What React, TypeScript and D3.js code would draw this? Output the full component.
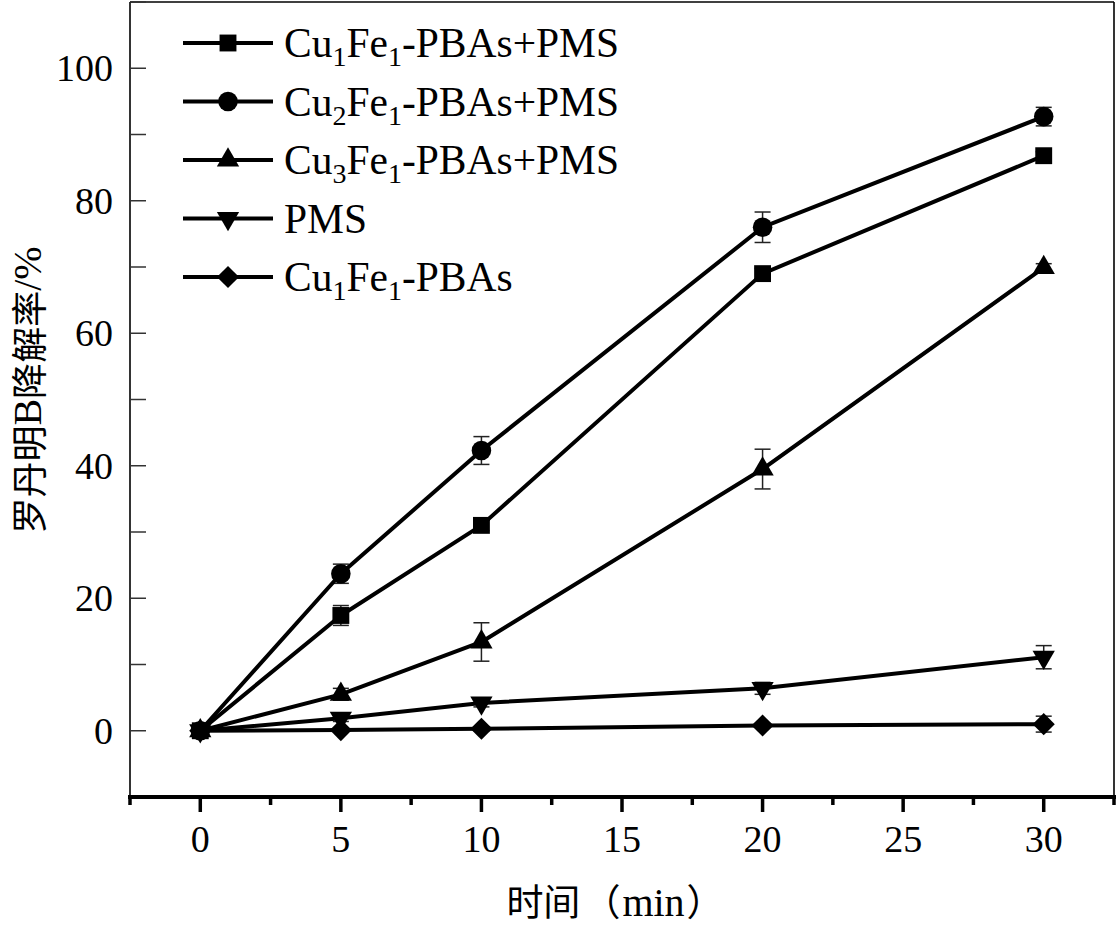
import React from "react"
import { scaleLinear, line, symbol, symbolSquare, symbolCircle, symbolTriangle, range } from "d3"

// time points (min)
const times = [0, 5, 10, 20, 30]

// series values (%) and error bars
const cu1Values = [0, 17.4, 31.0, 69.0, 86.8]
const cu1Errors = [0.3, 1.5, 0.8, 0.8, 0.6]
const cu2Values = [0, 23.7, 42.3, 76.0, 92.7]
const cu2Errors = [0.3, 1.45, 2.1, 2.3, 1.4]
const cu3Values = [0, 5.5, 13.4, 39.5, 69.9]
const cu3Errors = [0.3, 0.9, 2.9, 3.0, 0.6]
const pmsValues = [0, 1.9, 4.2, 6.4, 11.1]
const pmsErrors = [0.2, 0.5, 0.6, 0.9, 1.75]
const pbaValues = [0, 0.1, 0.3, 0.8, 1.0]
const pbaErrors = [0.2, 0.2, 0.3, 0.3, 1.2]

// legend names: [prefix, sub, mid, sub, suffix]
const legendNames = [
  ["Cu", "1", "Fe", "1", "-PBAs+PMS"],
  ["Cu", "2", "Fe", "1", "-PBAs+PMS"],
  ["Cu", "3", "Fe", "1", "-PBAs+PMS"],
  ["PMS", "", "", "", ""],
  ["Cu", "1", "Fe", "1", "-PBAs"],
]

const xMajorTicks = [0, 5, 10, 15, 20, 25, 30]
const yMajorTicks = [0, 20, 40, 60, 80, 100]

type Marker = "square" | "circle" | "up" | "down" | "diamond"

const series: { values: number[]; errors: number[]; marker: Marker }[] = [
  { values: cu1Values, errors: cu1Errors, marker: "square" },
  { values: cu2Values, errors: cu2Errors, marker: "circle" },
  { values: cu3Values, errors: cu3Errors, marker: "up" },
  { values: pmsValues, errors: pmsErrors, marker: "down" },
  { values: pbaValues, errors: pbaErrors, marker: "diamond" },
]

const serif = "'Liberation Serif', 'Times New Roman', serif"
const cjk = "'Noto Sans CJK SC', sans-serif"

const markerPath = (m: Marker) => {
  if (m === "square") return symbol(symbolSquare, 285)()
  if (m === "circle") return symbol(symbolCircle, 300)()
  if (m === "diamond") return symbol(symbolSquare, 245)()
  return symbol(symbolTriangle, 215)()
}
const markerRotate = (m: Marker) => (m === "down" ? 180 : m === "diamond" ? 45 : 0)

const MarkerShape = ({ m, x, y }: { m: Marker; x: number; y: number }) => (
  <path
    d={markerPath(m) ?? ""}
    transform={`translate(${x},${y}) rotate(${markerRotate(m)})`}
    fill="#000"
  />
)

const App = () => {
  // dimensions
  const width = 1120
  const height = 932
  const left = 130
  const right = 1114
  const top = 2
  const bottom = 797

  // scales
  const xScale = scaleLinear().domain([-2.5, 32.5]).range([left, right])
  const yScale = scaleLinear().domain([-10, 110]).range([bottom, top])

  const lineGen = line<number>()
    .x((_, i) => xScale(times[i]))
    .y((d) => yScale(d))

  const xMinorTicks = range(-2.5, 33, 5)
  const yMinorTicks = range(-10, 111, 10)

  const legendX0 = 183
  const legendX1 = 273
  const legendY0 = 43
  const legendStep = 58.5

  return (
    <div style={{ position: "absolute", left: 0, top: 0 }}>
      <svg width={width} height={height} style={{ display: "block", background: "#fff" }}>
        {/* frame */}
        <line x1={left} x2={left} y1={top} y2={bottom} stroke="#000" strokeWidth={1.6} />
        <line x1={left} x2={right} y1={top} y2={top} stroke="#000" strokeWidth={1.6} />
        <line x1={right} x2={right} y1={top} y2={bottom} stroke="#000" strokeWidth={1.6} />

        {/* y ticks (inward) */}
        {yMinorTicks.map((t) => (
          <line key={"yt" + t} x1={left} x2={left + 16} y1={yScale(t)} y2={yScale(t)} stroke="#333" strokeWidth={1.5} />
        ))}
        {yMajorTicks.map((t) => (
          <text
            key={"yl" + t}
            x={left - 17}
            y={yScale(t) + 13}
            textAnchor="end"
            fontFamily={serif}
            fontSize={38}
            fill="#000"
          >
            {t}
          </text>
        ))}

        {/* x axis (thick, outward ticks) */}
        <line x1={left - 2} x2={right + 2} y1={bottom} y2={bottom} stroke="#000" strokeWidth={4} />
        {xMinorTicks.map((t) => (
          <line key={"xm" + t} x1={xScale(t)} x2={xScale(t)} y1={bottom} y2={bottom + 8} stroke="#000" strokeWidth={3.5} />
        ))}
        {xMajorTicks.map((t) => (
          <g key={"xt" + t}>
            <line x1={xScale(t)} x2={xScale(t)} y1={bottom} y2={bottom + 15} stroke="#000" strokeWidth={3.5} />
            <text x={xScale(t)} y={852} textAnchor="middle" fontFamily={serif} fontSize={38} fill="#000">
              {t}
            </text>
          </g>
        ))}

        {/* axis titles */}
        <text x={615} y={916} textAnchor="middle" fontFamily={serif} fontSize={40} fill="#000">
          <tspan fontFamily={cjk} fontSize={37}>时间</tspan>
          <tspan fontFamily={cjk} fontSize={37} dx={3}>（</tspan>
          <tspan dx={2}>min</tspan>
          <tspan fontFamily={cjk} fontSize={37} dx={2}>）</tspan>
        </text>
        <text
          transform={`translate(27, 390) rotate(-90)`}
          textAnchor="middle"
          dominantBaseline="central"
          fontFamily={serif}
          fontSize={40}
          fill="#000"
        >
          <tspan fontFamily={cjk} fontSize={36}>罗丹明</tspan>
          <tspan>B</tspan>
          <tspan fontFamily={cjk} fontSize={36}>降解率</tspan>
          <tspan>/%</tspan>
        </text>

        {/* series */}
        {series.map((s, si) => (
          <g key={"s" + si}>
            {s.values.map((v, i) => {
              const x = xScale(times[i])
              const y1 = yScale(v + s.errors[i])
              const y2 = yScale(v - s.errors[i])
              return (
                <g key={"e" + i} stroke="#222" strokeWidth={1.5}>
                  <line x1={x} x2={x} y1={y1} y2={y2} />
                  <line x1={x - 8} x2={x + 8} y1={y1} y2={y1} />
                  <line x1={x - 8} x2={x + 8} y1={y2} y2={y2} />
                </g>
              )
            })}
            <path d={lineGen(s.values) ?? ""} fill="none" stroke="#000" strokeWidth={4} strokeLinejoin="round" />
            {s.values.map((v, i) => (
              <MarkerShape key={"m" + i} m={s.marker} x={xScale(times[i])} y={yScale(v)} />
            ))}
          </g>
        ))}

        {/* legend */}
        {series.map((s, i) => {
          const y = legendY0 + i * legendStep
          const n = legendNames[i]
          return (
            <g key={"lg" + i}>
              <line x1={legendX0} x2={legendX1} y1={y} y2={y} stroke="#000" strokeWidth={4} />
              <MarkerShape m={s.marker} x={(legendX0 + legendX1) / 2} y={y} />
              <text x={284} y={y + 14} fontFamily={serif} fontSize={41.5} fill="#000">
                {n[0]}
                {n[1] && (
                  <tspan fontSize={28} dy={9}>
                    {n[1]}
                  </tspan>
                )}
                {n[2] && <tspan dy={n[1] ? -9 : 0}>{n[2]}</tspan>}
                {n[3] && (
                  <tspan fontSize={28} dy={9}>
                    {n[3]}
                  </tspan>
                )}
                {n[4] && <tspan dy={n[3] ? -9 : 0}>{n[4]}</tspan>}
              </text>
            </g>
          )
        })}
      </svg>
    </div>
  )
}

export default App
